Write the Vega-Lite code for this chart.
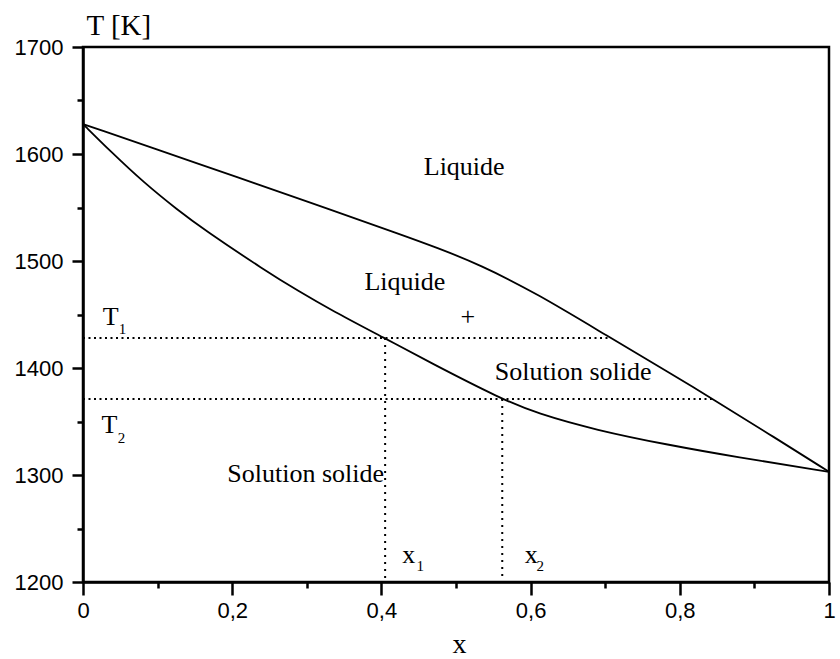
{
  "$schema": "https://vega.github.io/schema/vega-lite/v6.json",
  "width": 746,
  "height": 535,
  "autosize": {"type": "none"},
  "padding": {"left": 83, "top": 47, "right": 11, "bottom": 77},
  "background": "white",
  "config": {
    "view": {"stroke": "black", "strokeWidth": 2.5},
    "axis": {
      "domainColor": "black", "domainWidth": 2.5, "tickColor": "black", "tickWidth": 2.5,
      "labelColor": "black", "labelFont": "Liberation Sans", "labelFontSize": 22,
      "titleFont": "Liberation Serif", "titleFontWeight": "normal", "titleColor": "black",
      "grid": false, "labelOverlap": false, "labelBound": false, "labelFlush": false
    }
  },
  "encoding": {
    "x": {
      "field": "x", "type": "quantitative",
      "scale": {"domain": [0, 1], "nice": false, "zero": false},
      "axis": {
        "values": [0, 0.1, 0.2, 0.3, 0.4, 0.5, 0.6, 0.7, 0.8, 0.9, 1],
        "tickSize": {"condition": {"test": "round(datum.value*10) % 2 === 0", "value": 13}, "value": 6},
        "labelExpr": "round(datum.value*10) % 2 === 0 ? replace(format(datum.value, '~g'), '.', ',') : ''",
        "labelPadding": 5,
        "title": "x", "titleFontSize": 28, "titleX": 376, "titleY": 70,
        "titleBaseline": "alphabetic", "titleAlign": "center"
      }
    },
    "y": {
      "field": "T", "type": "quantitative",
      "scale": {"domain": [1200, 1700], "nice": false, "zero": false},
      "axis": {
        "values": [1200, 1250, 1300, 1350, 1400, 1450, 1500, 1550, 1600, 1650, 1700],
        "tickSize": {"condition": {"test": "datum.value % 100 === 0", "value": 11}, "value": 6},
        "labelExpr": "datum.value % 100 === 0 ? format(datum.value, 'd') : ''",
        "labelPadding": 9,
        "title": "T [K]", "titleFontSize": 29, "titleAngle": 0, "titleAlign": "left",
        "titleBaseline": "alphabetic", "titleX": 3, "titleY": -13
      }
    }
  },
  "layer": [
    {
      "data": {"values": [
        {"curve": "liquidus", "x": 0, "T": 1628},
        {"curve": "liquidus", "x": 0.1795, "T": 1585},
        {"curve": "liquidus", "x": 0.2177, "T": 1575.7},
        {"curve": "liquidus", "x": 0.333, "T": 1547.7},
        {"curve": "liquidus", "x": 0.4215, "T": 1525.9},
        {"curve": "liquidus", "x": 0.4747, "T": 1512.5},
        {"curve": "liquidus", "x": 0.532, "T": 1496.5},
        {"curve": "liquidus", "x": 0.608, "T": 1469.8},
        {"curve": "liquidus", "x": 0.705, "T": 1429},
        {"curve": "liquidus", "x": 0.785, "T": 1396},
        {"curve": "liquidus", "x": 0.843, "T": 1371.5},
        {"curve": "liquidus", "x": 0.918, "T": 1339},
        {"curve": "liquidus", "x": 1, "T": 1303},
        {"curve": "solidus", "x": 0, "T": 1628},
        {"curve": "solidus", "x": 0.0376, "T": 1602},
        {"curve": "solidus", "x": 0.082, "T": 1573},
        {"curve": "solidus", "x": 0.1263, "T": 1548},
        {"curve": "solidus", "x": 0.1618, "T": 1529.5},
        {"curve": "solidus", "x": 0.2443, "T": 1491},
        {"curve": "solidus", "x": 0.2886, "T": 1472},
        {"curve": "solidus", "x": 0.333, "T": 1454},
        {"curve": "solidus", "x": 0.4047, "T": 1427.8},
        {"curve": "solidus", "x": 0.4654, "T": 1405},
        {"curve": "solidus", "x": 0.561, "T": 1371},
        {"curve": "solidus", "x": 0.608, "T": 1357.7},
        {"curve": "solidus", "x": 0.6875, "T": 1342},
        {"curve": "solidus", "x": 0.785, "T": 1328},
        {"curve": "solidus", "x": 0.874, "T": 1317},
        {"curve": "solidus", "x": 1, "T": 1303}
      ]},
      "mark": {"type": "line", "color": "black", "strokeWidth": 1.8, "interpolate": "basis"},
      "encoding": {"detail": {"field": "curve"}}
    },
    {
      "data": {"values": [
        {"x": 0, "T": 1428, "x2": 0.705, "T2": 1428},
        {"x": 0, "T": 1371, "x2": 0.843, "T2": 1371}
      ]},
      "mark": {"type": "rule", "color": "black", "strokeWidth": 2, "strokeDash": [2, 3.5]},
      "encoding": {"x2": {"field": "x2"}, "y2": {"field": "T2"}}
    },
    {
      "data": {"values": [
        {"x": 0.405, "T": 1428, "x2": 0.405, "T2": 1200},
        {"x": 0.562, "T": 1371, "x2": 0.562, "T2": 1200}
      ]},
      "mark": {"type": "rule", "color": "black", "strokeWidth": 2, "strokeDash": [2, 5]},
      "encoding": {"x2": {"field": "x2"}, "y2": {"field": "T2"}}
    },
    {
      "data": {"values": [
        {"x": 0.511, "T": 1580, "label": "Liquide"},
        {"x": 0.4315, "T": 1473, "label": "Liquide"},
        {"x": 0.516, "T": 1440, "label": "+"},
        {"x": 0.657, "T": 1389, "label": "Solution solide"},
        {"x": 0.2985, "T": 1293.5, "label": "Solution solide"}
      ]},
      "mark": {"type": "text", "font": "Liberation Serif", "fontSize": 26, "align": "center", "baseline": "alphabetic", "color": "black"},
      "encoding": {"text": {"field": "label"}}
    },
    {
      "data": {"values": [
        {"x": 0.0266, "T": 1440, "label": "T"},
        {"x": 0.0248, "T": 1339, "label": "T"},
        {"x": 0.428, "T": 1218, "label": "x"},
        {"x": 0.592, "T": 1218, "label": "x"}
      ]},
      "mark": {"type": "text", "font": "Liberation Serif", "fontSize": 26, "align": "left", "baseline": "alphabetic", "color": "black"},
      "encoding": {"text": {"field": "label"}}
    },
    {
      "data": {"values": [
        {"x": 0.0479, "T": 1432, "label": "1"},
        {"x": 0.0465, "T": 1330, "label": "2"},
        {"x": 0.447, "T": 1210, "label": "1"},
        {"x": 0.608, "T": 1210, "label": "2"}
      ]},
      "mark": {"type": "text", "font": "Liberation Serif", "fontSize": 15, "align": "left", "baseline": "alphabetic", "color": "black"},
      "encoding": {"text": {"field": "label"}}
    }
  ]
}
